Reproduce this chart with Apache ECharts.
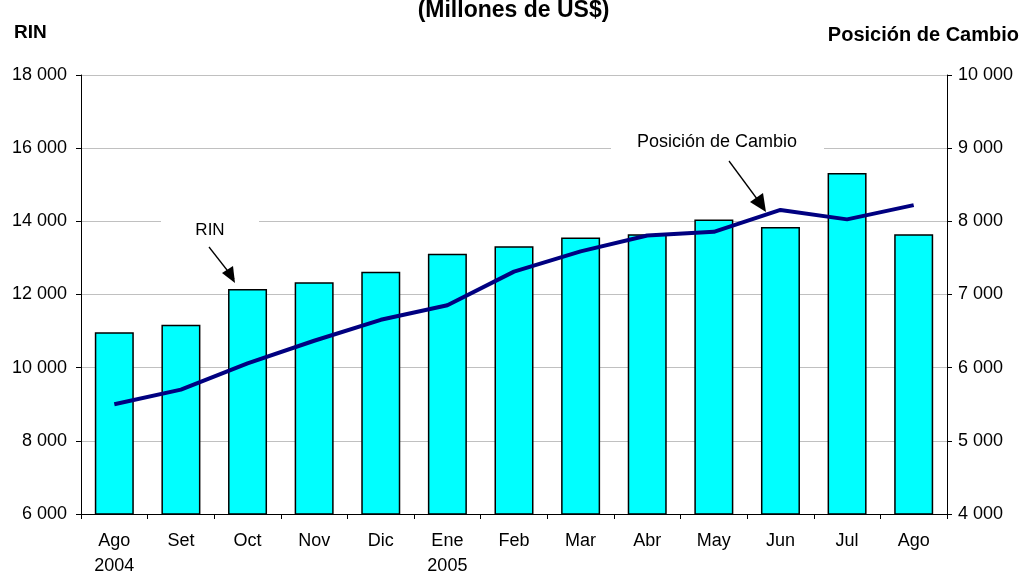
<!DOCTYPE html>
<html><head><meta charset="utf-8">
<script src="https://cdn.jsdelivr.net/npm/echarts@6/dist/echarts.min.js"></script>
<style>html,body{margin:0;padding:0;background:#fff}#c{width:1027px;height:574px}</style>
</head><body><div id="c"></div>
<script>
const categories = ['Ago\n2004','Set','Oct','Nov','Dic','Ene\n2005','Feb','Mar','Abr','May','Jun','Jul','Ago'];
const rinValues = [10965, 11170, 12147, 12332, 12625, 13115, 13317, 13557, 13650, 14047, 13845, 15320, 13650];
const posicionValues = [5500, 5700, 6060, 6368, 6654, 6852, 7313, 7589, 7806, 7857, 8156, 8027, 8221];
const leftTicks = {min: 6000, max: 18000, interval: 2000};
const rightTicks = {min: 4000, max: 10000, interval: 1000};

const fmt = v => String(v).replace(/\B(?=(\d{3})+(?!\d))/g, ' ');
const font = 'Liberation Sans';
const chart = echarts.init(document.getElementById('c'), null, {renderer: 'canvas'});
chart.setOption({
  animation: false,
  textStyle: {fontFamily: font},
  grid: {left: 81, right: 80, top: 75, bottom: 60, containLabel: false, outerBoundsMode: 'none'},
  title: [
    {text: '(Millones de US$)', left: 'center', top: -6, textStyle: {fontFamily: font, fontSize: 23, fontWeight: 'bold', color: '#000'}},
    {text: 'RIN', left: 9, top: 18, textStyle: {fontFamily: font, fontSize: 19, fontWeight: 'bold', color: '#000'}},
    {text: 'Posición de Cambio', right: 3, top: 20, textStyle: {fontFamily: font, fontSize: 20, fontWeight: 'bold', color: '#000'}}
  ],
  xAxis: {
    type: 'category', data: categories, boundaryGap: true,
    axisLine: {lineStyle: {color: '#000', width: 1}},
    axisTick: {show: true, length: 5, inside: false, lineStyle: {color: '#000'}},
    axisLabel: {fontFamily: font, fontSize: 18, color: '#000', margin: 15, lineHeight: 25, interval: 0}
  },
  yAxis: [
    {type: 'value', min: leftTicks.min, max: leftTicks.max, interval: leftTicks.interval, position: 'left',
     axisLine: {show: true, lineStyle: {color: '#000'}},
     axisTick: {show: true, length: 5, lineStyle: {color: '#000'}},
     axisLabel: {formatter: fmt, fontFamily: font, fontSize: 18, color: '#000', margin: 14},
     splitLine: {show: true, lineStyle: {color: '#c0c0c0', width: 1}}},
    {type: 'value', min: rightTicks.min, max: rightTicks.max, interval: rightTicks.interval, position: 'right',
     axisLine: {show: true, lineStyle: {color: '#000'}},
     axisTick: {show: true, length: 5, lineStyle: {color: '#000'}},
     axisLabel: {formatter: fmt, fontFamily: font, fontSize: 18, color: '#000', margin: 11},
     splitLine: {show: false}}
  ],
  series: [
    {name: 'RIN', type: 'bar', yAxisIndex: 0, data: rinValues, barWidth: 39,
     itemStyle: {color: '#00ffff', borderColor: '#000', borderWidth: 1.5}},
    {name: 'Posición de Cambio', type: 'line', yAxisIndex: 1, data: posicionValues,
     symbol: 'none', lineStyle: {color: '#000080', width: 4}, z: 5}
  ],
  graphic: [
    {type: 'rect', shape: {x: 161, y: 215, width: 98, height: 28}, style: {fill: '#fff'}, z: 9},
    {type: 'text', x: 210, y: 230, z: 10,
     style: {text: 'RIN', font: '17px "Liberation Sans"', fill: '#000', align: 'center', verticalAlign: 'middle'}},
    {type: 'line', shape: {x1: 209, y1: 247, x2: 234, y2: 279}, style: {stroke: '#000', lineWidth: 1.3}, z: 10},
    {type: 'polygon', shape: {points: [[235, 283], [222, 273], [233, 266]]}, style: {fill: '#000'}, z: 10},
    {type: 'rect', shape: {x: 611, y: 128, width: 213, height: 28}, style: {fill: '#fff'}, z: 9},
    {type: 'text', x: 717, y: 142, z: 10,
     style: {text: 'Posición de Cambio', font: '18px "Liberation Sans"', fill: '#000', align: 'center', verticalAlign: 'middle'}},
    {type: 'line', shape: {x1: 729, y1: 161, x2: 763, y2: 207}, style: {stroke: '#000', lineWidth: 1.3}, z: 10},
    {type: 'polygon', shape: {points: [[766, 212], [750, 202], [763, 193]]}, style: {fill: '#000'}, z: 10}
  ]
});
</script></body></html>
